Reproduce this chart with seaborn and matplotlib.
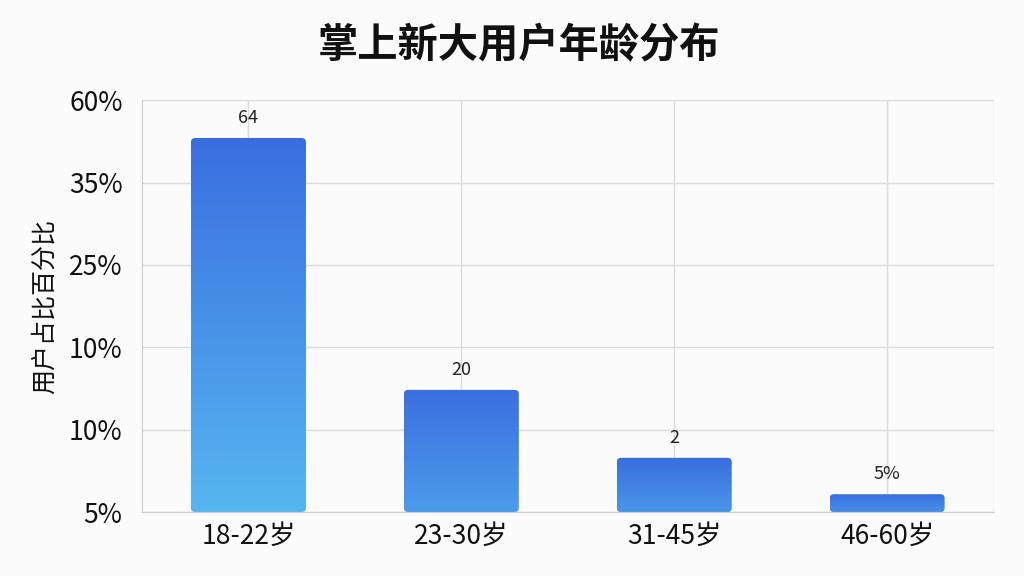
import matplotlib.pyplot as plt
import numpy as np
import pandas as pd
import seaborn as sns
from matplotlib.patches import FancyBboxPatch

# values (axis units, 0..60 scale of the drawn axis)
ages = ['18-22岁', '23-30岁', '31-45岁', '46-60岁']
share = [54.5, 17.8, 7.9, 2.6]
bar_labels = ['64', '20', '2', '5%']
ytick_pos = [0, 12, 24, 36, 48, 60]
ytick_labels = ['5%', '10%', '10%', '25%', '35%', '60%']

df = pd.DataFrame({'age': ages, 'share': share})

sns.set_style('white')
plt.rcParams['font.family'] = ['Noto Sans CJK SC', 'DejaVu Sans']

fig = plt.figure(figsize=(10.24, 5.76), dpi=100, facecolor='#fbfbfb')
ax = fig.add_axes([0.1387, 0.111, 0.8316, 0.715])
ax.set_facecolor('#fbfbfb')

sns.barplot(data=df, x='age', y='share', width=0.54, color='#3f7fe0', ax=ax)

# gradient fill with rounded tops; short bars get a softer gradient
top_col = np.array([0x3a, 0x6e, 0xe0]) / 255
low_col = np.array([0x56, 0xb6, 0xf0]) / 255
for bar in list(ax.patches):
    x0, y0 = bar.get_x(), bar.get_y()
    w, h = bar.get_width(), bar.get_height()
    bar.set_visible(False)
    frac = 0.45 + 0.55 * h / max(share)
    bottom = top_col + (low_col - top_col) * frac
    cmap = sns.blend_palette([bottom, top_col], as_cmap=True)
    shape = FancyBboxPatch((x0, y0), w, h, boxstyle='round,pad=0,rounding_size=0.02',
                           mutation_aspect=30, facecolor='none', edgecolor='none')
    ax.add_patch(shape)
    im = ax.imshow(np.linspace(0, 1, 256).reshape(-1, 1), extent=[x0, x0 + w, y0, y0 + h],
                   origin='lower', cmap=cmap, aspect='auto', zorder=2)
    im.set_clip_path(shape)

for i, (v, lab) in enumerate(zip(share, bar_labels)):
    ax.text(i, v + 1.6, lab, ha='center', va='bottom', fontsize=13, color='#222222', zorder=3)

ax.set_xlim(-0.5, 3.5)
ax.set_ylim(0, 60)
ax.set_yticks(ytick_pos)
ax.set_yticklabels(ytick_labels, fontsize=19, color='#111111')
ax.tick_params(axis='x', labelsize=19, length=0, pad=8, labelcolor='#111111')
ax.tick_params(axis='y', length=0, pad=14)
ax.set_xticks([0.5, 1.5, 2.5], minor=True)
ax.tick_params(axis='x', which='minor', length=8, direction='inout', color='#d8d8d8')
ax.set_xlabel('')
ax.set_ylabel('用户占比百分比', fontsize=18, color='#111111', labelpad=8)

ax.grid(True, color='#dcdcdc', linewidth=1, zorder=0)
ax.set_axisbelow(True)
for side in ['top', 'right']:
    ax.spines[side].set_visible(False)
for side in ['left', 'bottom']:
    ax.spines[side].set_color('#cfcfcf')
ax.axvline(3.5, color='#dcdcdc', linewidth=1, zorder=0)

fig.text(0.507, 0.92, '掌上新大用户年龄分布', ha='center', va='center',
         fontsize=29, fontweight='bold', color='#111111')

plt.savefig('out.png', dpi=100, facecolor=fig.get_facecolor())
